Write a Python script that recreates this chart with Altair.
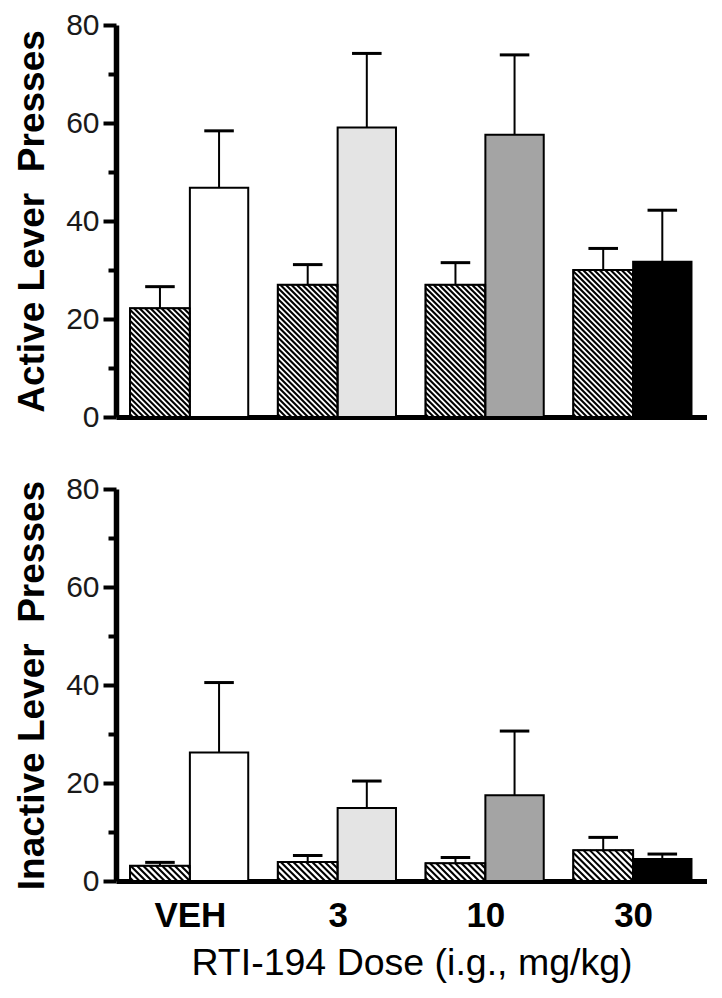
import altair as alt
import pandas as pd

# ---------------- data ----------------
doses = ["VEH", "3", "10", "30"]

active_base = [22.2, 27.0, 27.0, 30.0]
active_base_sem = [4.4, 4.1, 4.5, 4.4]
active_drug = [46.8, 59.1, 57.6, 31.7]
active_drug_sem = [11.6, 15.1, 16.3, 10.5]

inactive_base = [3.1, 3.9, 3.6, 6.3]
inactive_base_sem = [0.7, 1.3, 1.2, 2.6]
inactive_drug = [26.2, 14.9, 17.5, 4.5]
inactive_drug_sem = [14.3, 5.5, 13.1, 1.0]

drug_colors = ["#ffffff", "#e4e4e4", "#a4a4a4", "#000000"]
base_color = "#ffffff"

y_ticks = [0, 10, 20, 30, 40, 50, 60, 70, 80]

# ---------------- layout ----------------
W = 591
H_TOP = 392
H_BOT = 392
XMIN, XMAX = -0.5, 3.5
YMAX = 80
HATCH_W = 0.405
DRUG_W = 0.395
CAP_HALF = 0.1
FONT = "Liberation Sans"


def bars_df(base, base_sem, drug, drug_sem):
    rows = []
    for i, d in enumerate(doses):
        rows.append(dict(dose=d, kind="base", x0=i - HATCH_W, x1=i,
                         val=base[i], top=base[i] + base_sem[i], fill=base_color))
        rows.append(dict(dose=d, kind="drug", x0=i, x1=i + DRUG_W,
                         val=drug[i], top=drug[i] + drug_sem[i], fill=drug_colors[i]))
    df = pd.DataFrame(rows)
    df["xm"] = (df.x0 + df.x1) / 2
    df["c0"] = df.xm - CAP_HALF
    df["c1"] = df.xm + CAP_HALF
    return df


def hatch_df(base, H, step):
    pxx = W / (XMAX - XMIN)
    pxy = H / YMAX
    rows = []
    for i in range(len(doses)):
        X0 = (i - HATCH_W - XMIN) * pxx
        X1 = (i - XMIN) * pxx
        h = base[i] * pxy
        c = X0 + step / 2
        while c < X1 + h:
            xa = max(X0, c - h)
            xb = min(X1, c)
            if xb > xa:
                rows.append(dict(xa=xa / pxx + XMIN, ya=(c - xa) / pxy,
                                 xb=xb / pxx + XMIN, yb=(c - xb) / pxy))
            c += step
    return pd.DataFrame(rows)


def panel(base, base_sem, drug, drug_sem, H, ytitle, show_x, step):
    df = bars_df(base, base_sem, drug, drug_sem)
    hd = hatch_df(base, H, step)
    xs = alt.Scale(domain=[XMIN, XMAX], nice=False, zero=False)
    ys = alt.Scale(domain=[0, YMAX], nice=False)
    label_list = "[" + ",".join("'" + d + "'" for d in doses) + "]"
    if show_x:
        xaxis = alt.Axis(values=list(range(len(doses))),
                         labelExpr=label_list + "[datum.value]",
                         ticks=False, grid=False, domainWidth=5, domainColor="black",
                         labelFontSize=35, labelFontWeight="bold", labelColor="black",
                         labelPadding=17, labelFont=FONT, labelFlush=False,
                         title="RTI-194 Dose (i.g., mg/kg)", titleFontSize=37.5,
                         titleFontWeight="normal", titleFont=FONT, titleColor="black",
                         titlePadding=11)
    else:
        xaxis = alt.Axis(values=list(range(len(doses))), labels=False, ticks=False,
                         grid=False, domainWidth=5, domainColor="black", title="")
    yaxis = alt.Axis(values=y_ticks,
                     labelExpr="datum.value % 20 === 0 ? datum.label : ''",
                     tickSize={"condition": {"test": "datum.value % 20 === 0", "value": 13},
                               "value": 8},
                     tickWidth=4, tickColor="black", domainWidth=5.5, domainColor="black",
                     grid=False, labelFontSize=30, labelFont=FONT, labelColor="#1a1a1a",
                     labelPadding=4, labelOverlap=False,
                     title=ytitle, titleFontSize=37, titleFont=FONT,
                     titleFontWeight="bold", titleColor="black", titlePadding=14)

    bars = alt.Chart(df).mark_rect(stroke="black", strokeWidth=2).encode(
        x=alt.X("x0:Q", scale=xs, axis=xaxis),
        x2="x1",
        y=alt.Y("val:Q", scale=ys, axis=yaxis),
        y2=alt.datum(0),
        fill=alt.Fill("fill:N", scale=None),
    )
    hatch = alt.Chart(hd).mark_rule(color="black", strokeWidth=2.1).encode(
        x="xa:Q", x2="xb", y="ya:Q", y2="yb",
    )
    outline = alt.Chart(df).transform_filter("datum.kind === 'base'").mark_rect(
        fillOpacity=0, stroke="black", strokeWidth=1.5).encode(
        x="x0:Q", x2="x1", y="val:Q", y2=alt.datum(0),
    )
    err = alt.Chart(df).mark_rule(color="black", strokeWidth=2).encode(
        x="xm:Q", y="val:Q", y2="top",
    )
    cap = alt.Chart(df).mark_rule(color="black", strokeWidth=3).encode(
        x="c0:Q", x2="c1", y="top:Q",
    )
    return alt.layer(bars, hatch, outline, err, cap).properties(width=W, height=H)


top = panel(active_base, active_base_sem, active_drug, active_drug_sem, H_TOP,
            "Active Lever\u00a0 Presses", False, 5.5)
bottom = panel(inactive_base, inactive_base_sem, inactive_drug, inactive_drug_sem, H_BOT,
               "Inactive Lever\u00a0 Presses", True, 6.3)

chart = alt.vconcat(top, bottom, spacing=42).properties(
    padding={"left": 5, "top": 2, "right": 0, "bottom": 5}
).configure(font=FONT).configure_view(strokeWidth=0)

chart.save("out.html", embed_options={"renderer": "svg", "actions": False})
